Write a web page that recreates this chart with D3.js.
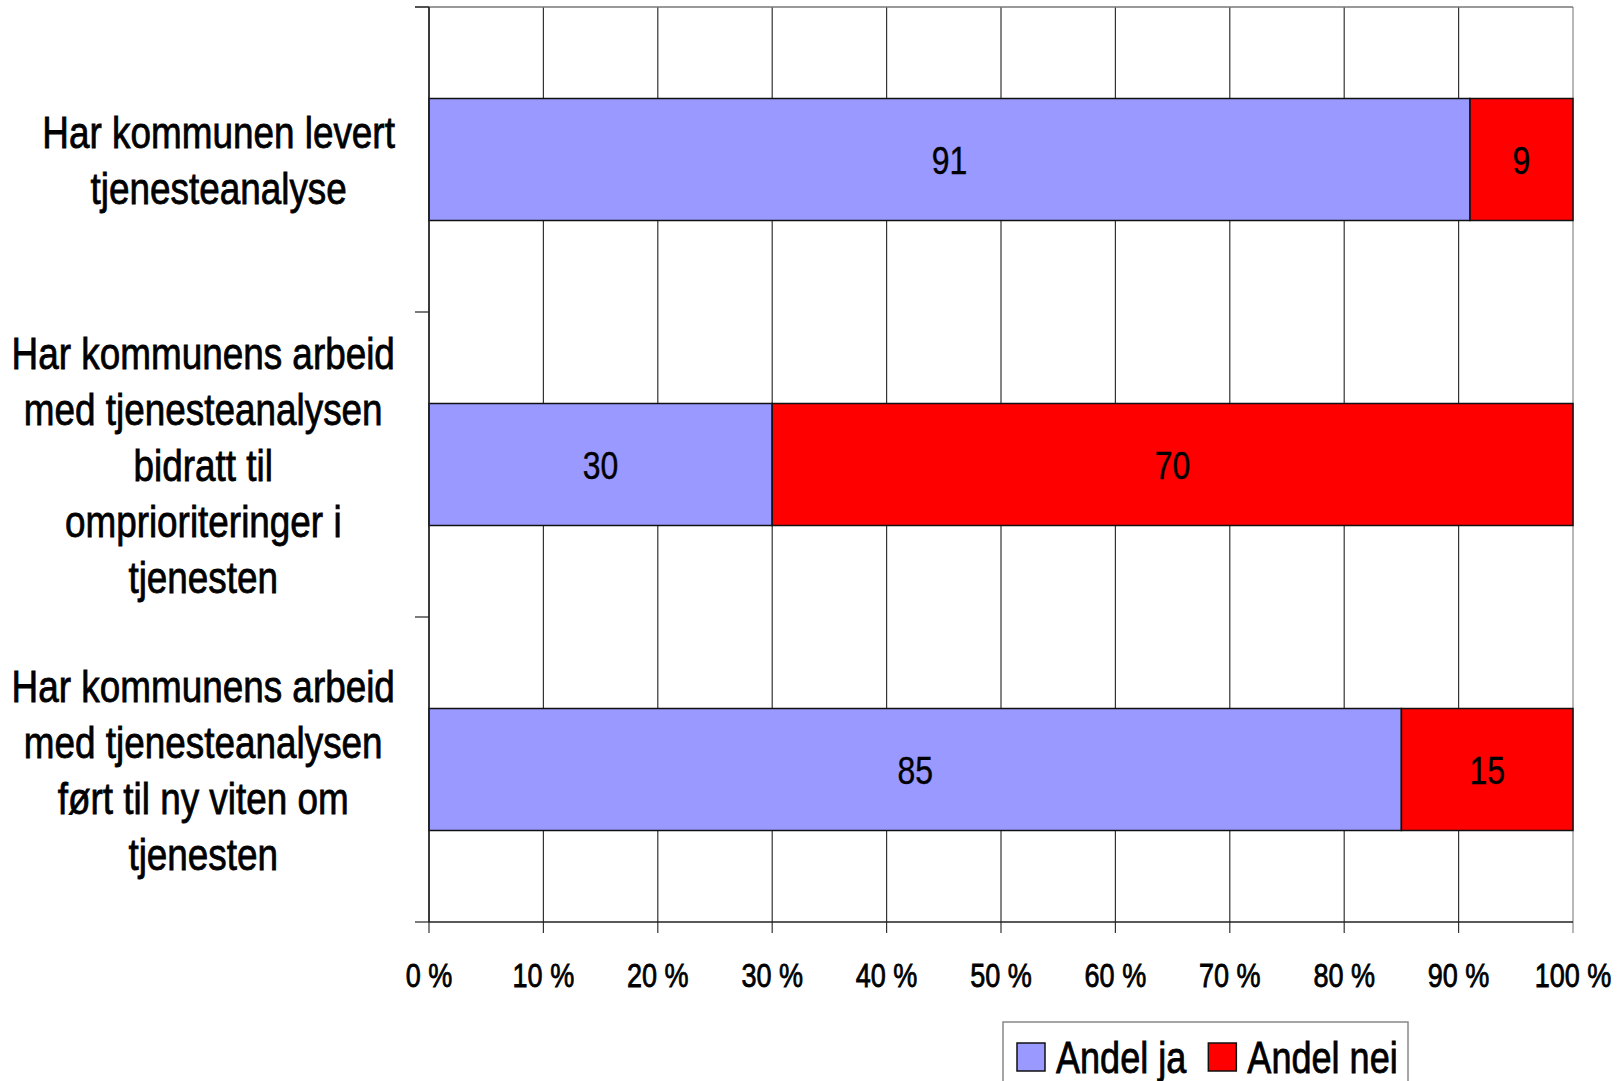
<!DOCTYPE html>
<html>
<head>
<meta charset="utf-8">
<script src="https://cdn.jsdelivr.net/npm/d3@7"></script>
<style>
  body { margin: 0; background: #fff; }
  text { font-family: "Liberation Sans", Arial, sans-serif; fill: #000; }
  text.heavy { stroke: #000; stroke-width: 0.8px; }
</style>
</head>
<body>
<div id="chart"></div>
<script>
var categories = [
    ["Har kommunen levert", "tjenesteanalyse"],
    ["Har kommunens arbeid", "med tjenesteanalysen", "bidratt til", "omprioriteringer i", "tjenesten"],
    ["Har kommunens arbeid", "med tjenesteanalysen", "ført til ny viten om", "tjenesten"]
];
var andelJa = [91, 30, 85];
var andelNei = [9, 70, 15];
var seriesNames = ["Andel ja", "Andel nei"];
var seriesColors = ["#9999FF", "#FF0000"];
var tickValues = [0, 10, 20, 30, 40, 50, 60, 70, 80, 90, 100];

var width = 1624, height = 1081;
var pLeft = 429, pRight = 1573, pTop = 7, pBottom = 922;
var narrow = 0.82; // Liberation Sans squeezed to look like Arial Narrow

var svg = d3.select("#chart").append("svg")
    .attr("width", width)
    .attr("height", height);

var x = d3.scaleLinear().domain([0, 100]).range([pLeft, pRight]);
var y = d3.scaleBand().domain(d3.range(categories.length))
    .range([pTop, pBottom])
    .paddingInner(0.6)
    .paddingOuter(0.3);
var step = (pBottom - pTop) / categories.length;

function narrowText(sel, tx, ty) {
    return sel.attr("transform", function (d, i) {
        return "translate(" + tx(d, i) + "," + ty(d, i) + ") scale(" + narrow + ",1)";
    });
}

// gridlines + ticks under the axis
svg.append("g").selectAll("line")
    .data(tickValues)
    .enter()
    .append("line")
    .attr("x1", d => x(d)).attr("x2", d => x(d))
    .attr("y1", pTop).attr("y2", pBottom + 11)
    .attr("stroke", (d, i) => i == 10 ? "#888" : "#333")
    .attr("stroke-width", 1.2);

// top border
svg.append("line")
    .attr("x1", pLeft - 14).attr("x2", pRight)
    .attr("y1", pTop).attr("y2", pTop)
    .attr("stroke", "#777").attr("stroke-width", 1.5);

// category ticks
svg.append("g").selectAll("line")
    .data(d3.range(categories.length + 1))
    .enter()
    .append("line")
    .attr("x1", pLeft - 14).attr("x2", pLeft)
    .attr("y1", d => pTop + d * step).attr("y2", d => pTop + d * step)
    .attr("stroke", "#222").attr("stroke-width", 1.2);

// stacked bars
var stacked = categories.map((c, i) => [
    { s: 0, x0: 0, x1: andelJa[i], v: andelJa[i] },
    { s: 1, x0: andelJa[i], x1: andelJa[i] + andelNei[i], v: andelNei[i] }
]);
var bars = svg.append("g").selectAll("g")
    .data(stacked)
    .enter()
    .append("g")
    .attr("transform", (d, i) => "translate(0," + y(i) + ")");
bars.selectAll("rect")
    .data(d => d)
    .enter()
    .append("rect")
    .attr("x", d => x(d.x0))
    .attr("width", d => x(d.x1) - x(d.x0))
    .attr("y", 0)
    .attr("height", y.bandwidth())
    .attr("fill", d => seriesColors[d.s])
    .attr("stroke", "#111")
    .attr("stroke-width", 1.5);
narrowText(bars.selectAll("text")
    .data(d => d)
    .enter()
    .append("text")
    .text(d => d.v)
    .attr("dy", "0.36em")
    .attr("text-anchor", "middle")
    .attr("font-size", 39)
    .style("stroke", "#000").style("stroke-width", "0.4px"),
    d => (x(d.x0) + x(d.x1)) / 2, () => y.bandwidth() / 2);

// axes lines
svg.append("line")
    .attr("x1", pLeft).attr("x2", pLeft)
    .attr("y1", pTop).attr("y2", pBottom)
    .attr("stroke", "#222").attr("stroke-width", 1.5);
svg.append("line")
    .attr("x1", pLeft).attr("x2", pRight)
    .attr("y1", pBottom).attr("y2", pBottom)
    .attr("stroke", "#222").attr("stroke-width", 1.5);

// x tick labels
narrowText(svg.append("g").selectAll("text")
    .data(tickValues)
    .enter()
    .append("text")
    .attr("class", "heavy")
    .text(d => d + " %")
    .attr("dy", "0.36em")
    .attr("text-anchor", "middle")
    .attr("font-size", 33),
    d => x(d), () => 975);

// category labels: each line centered in a block right-aligned to the axis
var lineH = 56, labelRight = 395;
categories.forEach(function (lines, i) {
    var g = svg.append("g");
    var cy = pTop + step * i + step / 2;
    var ts = g.selectAll("text")
        .data(lines)
        .enter()
        .append("text")
        .attr("class", "heavy")
        .text(d => d)
        .attr("font-size", 45)
        .attr("text-anchor", "middle")
        .attr("dy", "0.36em");
    var maxW = d3.max(ts.nodes(), n => n.getComputedTextLength()) * narrow;
    narrowText(ts, () => labelRight - maxW / 2,
        (d, j) => cy + (j - (lines.length - 1) / 2) * lineH);
});

// legend
var lg = svg.append("g");
lg.append("rect")
    .attr("x", 1003).attr("y", 1022)
    .attr("width", 405).attr("height", 80)
    .attr("fill", "#fff").attr("stroke", "#888").attr("stroke-width", 1.5);
var lx = 1017;
seriesNames.forEach(function (name, i) {
    lg.append("rect")
        .attr("x", lx).attr("y", 1043)
        .attr("width", 28).attr("height", 28)
        .attr("fill", seriesColors[i])
        .attr("stroke", "#111").attr("stroke-width", 1.5);
    var t = lg.append("text")
        .attr("class", "heavy")
        .text(name)
        .attr("dy", "0.36em")
        .attr("font-size", 44)
        .attr("transform", "translate(" + (lx + 39) + ",1057) scale(" + narrow + ",1)");
    lx += 39 + t.node().getComputedTextLength() * narrow + 22;
});
</script>
</body>
</html>
